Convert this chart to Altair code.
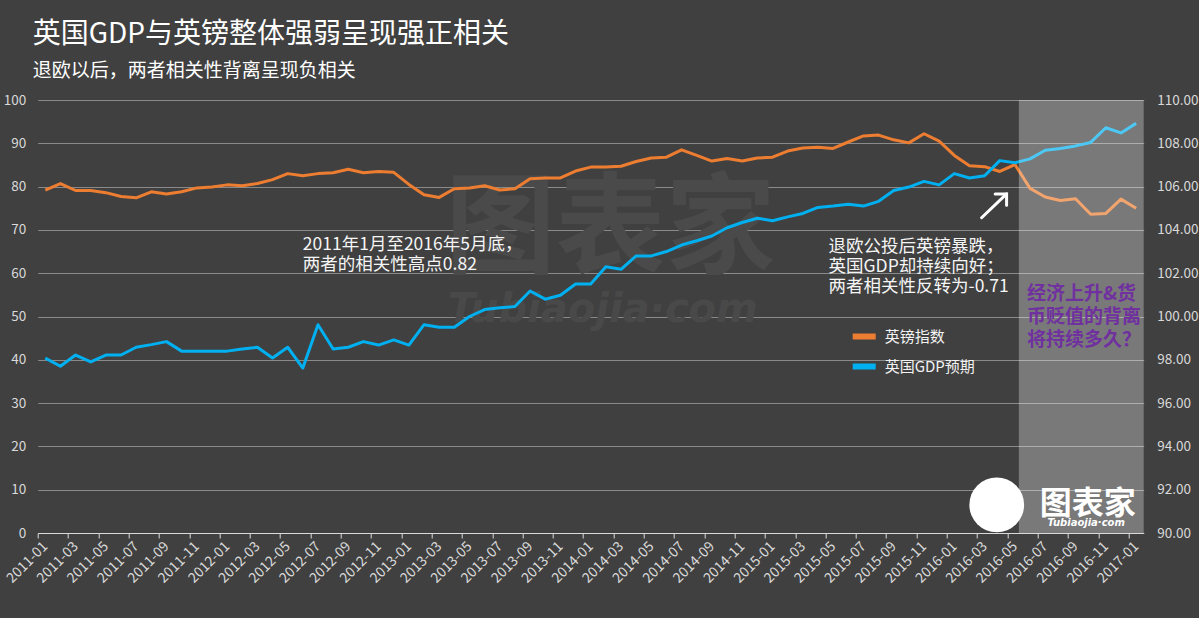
import json
import altair as alt
import pandas as pd

FONT = "Noto Sans CJK SC"
BG = "#404040"
ORANGE = "#ED7D31"
BLUE = "#00B0F0"
LABEL = "#d9d9d9"

# ---------------- data ----------------
months = pd.date_range("2011-01-01", periods=73, freq="MS").strftime("%Y-%m").tolist()

gbp_index = [79.2, 80.7, 79.1, 79.1, 78.6, 77.7, 77.4, 78.8, 78.3, 78.8,
             79.7, 79.9, 80.4, 80.2, 80.7, 81.6, 83.0, 82.5, 83.0, 83.2,
             84.0, 83.2, 83.5, 83.3, 80.5, 78.1, 77.5, 79.5, 79.7, 80.2,
             79.2, 79.5, 81.8, 82.0, 82.0, 83.6, 84.5, 84.5, 84.7, 85.8,
             86.6, 86.8, 88.5, 87.2, 85.9, 86.5, 85.9, 86.6, 86.8, 88.2,
             88.9, 89.1, 88.8, 90.3, 91.7, 91.9, 90.8, 90.1, 92.2, 90.5,
             87.2, 84.8, 84.6, 83.5, 85.1, 79.6, 77.6, 76.8, 77.2, 73.6,
             73.8, 77.1, 75.0]

gdp_expect = [98.08, 97.70, 98.22, 97.90, 98.22, 98.22, 98.58, 98.70, 98.84, 98.40,
              98.40, 98.40, 98.40, 98.50, 98.58, 98.08, 98.58, 97.62, 99.62, 98.50,
              98.58, 98.84, 98.68, 98.92, 98.68, 99.62, 99.50, 99.50, 100.00, 100.32,
              100.40, 100.46, 101.18, 100.80, 100.98, 101.50, 101.50, 102.30, 102.18, 102.80,
              102.80, 103.00, 103.30, 103.50, 103.72, 104.10, 104.34, 104.54, 104.42, 104.60,
              104.76, 105.04, 105.10, 105.18, 105.10, 105.32, 105.82, 105.98, 106.24, 106.08,
              106.60, 106.40, 106.50, 107.20, 107.10, 107.28, 107.68, 107.76, 107.88, 108.04,
              108.72, 108.48, 108.92]

series_names = ["英镑指数", "英国GDP预期"]
left_ticks = list(range(0, 101, 10))
right_ticks = list(range(90, 111, 2))

title_text = "英国GDP与英镑整体强弱呈现强正相关"
subtitle_text = "退欧以后，两者相关性背离呈现负相关"

# annotations (in data space: month index / left-axis value)
note_x = [17.5, 52.2]
note_y = [66.4, 66.1]
note_text = ["2011年1月至2016年5月底，\n两者的相关性高点0.82",
             "退欧公投后英镑暴跌，\n英国GDP却持续向好；\n两者相关性反转为-0.71"]
question_x = [65.3]
question_y = [55.3]
question_text = ["经济上升&货\n币贬值的背离\n将持续多久？"]
shade_x = [64.76]
shade_x2 = [73]
arrow_tail = [62.3, 72.8]
arrow_head = [63.95, 78.3]
watermark_x = [37.8, 37.3]
watermark_y = [69.5, 51.5]
watermark_text = ["图表家", "Tubiaojia·com"]

n = len(months)
df = pd.DataFrame({
    "month": months,
    "x": [i + 0.5 for i in range(n)],
    "gbp": gbp_index,
    "gdp": gdp_expect,
})

PLOT_W, PLOT_H = 1106, 433
half_band = PLOT_W / n / 2

xscale = alt.Scale(domain=[0, n], nice=False, zero=False)
yscale_left = alt.Scale(domain=[0, 100], nice=False, zero=False)
yscale_right = alt.Scale(domain=[90, 110], nice=False, zero=False)

x_axis = alt.Axis(
    values=list(range(0, n, 2)),
    labelExpr=json.dumps(months, ensure_ascii=False) + "[datum.value]",
    labelAngle=-45, labelAlign="right", labelBaseline="middle",
    labelOffset=half_band, labelPadding=6, tickSize=5,
    labelFlush=False, labelOverlap=False, labelBound=False,
    grid=False, title=None, domainColor=LABEL, tickColor=LABEL,
    labelColor=LABEL, labelFont=FONT, labelFontSize=14,
)
y_left_axis = alt.Axis(
    values=left_ticks, grid=True, gridColor="#8a8a8a", gridWidth=1,
    domain=False, ticks=False, labelPadding=12, title=None,
    labelColor=LABEL, labelFont=FONT, labelFontSize=13.5,
)
y_right_axis = alt.Axis(
    orient="right", values=right_ticks, format=".2f", grid=False,
    domain=False, ticks=False, labelPadding=13, title=None,
    labelColor=LABEL, labelFont=FONT, labelFontSize=13.5,
)


def X(field):
    return alt.X(field, type="quantitative", scale=xscale, axis=x_axis)


def YL(field, axis=y_left_axis):
    return alt.Y(field, type="quantitative", scale=yscale_left, axis=axis)


color = alt.Color(
    "series:N",
    scale=alt.Scale(domain=series_names, range=[ORANGE, BLUE]),
    legend=alt.Legend(
        title=None, orient="none", legendX=812, legendY=222,
        symbolType="stroke", symbolSize=529, symbolStrokeWidth=6,
        labelFontSize=15, labelColor="#f2f2f2", labelFont=FONT,
        rowPadding=3, labelOffset=6, padding=0,
    ),
)

base = alt.Chart(df)

# watermark (behind the lines)
wm_df = pd.DataFrame({"x": watermark_x, "y": watermark_y, "t": watermark_text})
watermark_big = alt.Chart(wm_df.iloc[[0]]).mark_text(
    font=FONT, fontSize=110, fontWeight="bold", color="#4a4a4a"
).encode(x=X("x"), y=YL("y"), text="t:N")
watermark_small = alt.Chart(wm_df.iloc[[1]]).mark_text(
    font="DejaVu Sans", fontSize=40, fontWeight="bold", fontStyle="italic", color="#494949"
).encode(x=X("x"), y=YL("y"), text="t:N")

orange_line = base.transform_calculate(series="'英镑指数'").mark_line(
    strokeWidth=3, strokeJoin="round"
).encode(x=X("x"), y=YL("gbp"), color=color)

left_group = alt.layer(watermark_big, watermark_small, orange_line)

blue_line = base.transform_calculate(series="'英国GDP预期'").mark_line(
    strokeWidth=3, strokeJoin="round"
).encode(
    x=X("x"),
    y=alt.Y("gdp:Q", scale=yscale_right, axis=y_right_axis),
    color=color,
)

# overlay group (own y scale with the same domain, no axis)
shade = alt.Chart(pd.DataFrame({"x0": shade_x, "x1": shade_x2, "y0": [0], "y1": [100]})).mark_rect(
    color="white", opacity=0.3
).encode(x=X("x0"), x2="x1", y=YL("y0", None), y2="y1")

arrow_df = pd.DataFrame({"x0": [arrow_tail[0]], "y0": [arrow_tail[1]],
                         "x1": [arrow_head[0]], "y1": [arrow_head[1]]})
arrow_shaft = alt.Chart(arrow_df).mark_rule(color="white", strokeWidth=3, strokeCap="round").encode(
    x=X("x0"), x2="x1", y=YL("y0", None), y2="y1",
)
arrow_head_mark = alt.Chart(arrow_df).mark_point(
    shape="M-1,1L0,0L1,1", filled=False, stroke="white", strokeWidth=3,
    size=260, angle=45, strokeCap="round", opacity=1
).encode(x=X("x1"), y=YL("y1", None))

notes = alt.Chart(pd.DataFrame({"x": note_x, "y": note_y, "t": note_text})).mark_text(
    align="left", baseline="middle", font=FONT, fontSize=17.5, color="#f5f5f5",
    lineBreak="\n", lineHeight=20
).encode(x=X("x"), y=YL("y", None), text="t:N")

question = alt.Chart(pd.DataFrame({"x": question_x, "y": question_y, "t": question_text})).mark_text(
    align="left", baseline="middle", font=FONT, fontSize=19, fontWeight="bold",
    color="#7030A0", lineBreak="\n", lineHeight=23
).encode(x=X("x"), y=YL("y", None), text="t:N")

logo_circle = alt.Chart(pd.DataFrame({"x": [63.3], "y": [6.5]})).mark_point(
    shape="circle", filled=True, color="white", size=3000, opacity=1
).encode(x=X("x"), y=YL("y", None))
logo_text = alt.Chart(pd.DataFrame({"x": [69.3], "y": [6.6], "t": ["图表家"]})).mark_text(
    font=FONT, fontSize=32, fontWeight="bold", color="white"
).encode(x=X("x"), y=YL("y", None), text="t:N")
logo_sub = alt.Chart(pd.DataFrame({"x": [69.2], "y": [2.4], "t": ["Tubiaojia·com"]})).mark_text(
    font="DejaVu Sans", fontSize=10, fontWeight="bold", fontStyle="italic", color="white"
).encode(x=X("x"), y=YL("y", None), text="t:N")

overlay_group = alt.layer(shade, arrow_shaft, arrow_head_mark, notes, question,
                          logo_circle, logo_text, logo_sub)

chart = alt.layer(left_group, blue_line, overlay_group).resolve_scale(
    y="independent"
).properties(
    width=PLOT_W, height=PLOT_H,
    autosize=alt.AutoSizeParams(type="none"),
    padding={"left": 37.7, "top": 100, "right": 1199 - 37.7 - PLOT_W, "bottom": 618 - 100 - PLOT_H},
    background=BG,
    title=alt.Title(
        title_text, subtitle=subtitle_text, anchor="start", frame="group",
        dx=-5, offset=12, fontSize=28, subtitleFontSize=19,
        color="white", subtitleColor="white", font=FONT, subtitleFont=FONT,
        fontWeight="normal", subtitlePadding=13,
    ),
).configure_view(strokeWidth=0)

chart.save("out.html", embed_options={"renderer": "svg", "actions": False})
